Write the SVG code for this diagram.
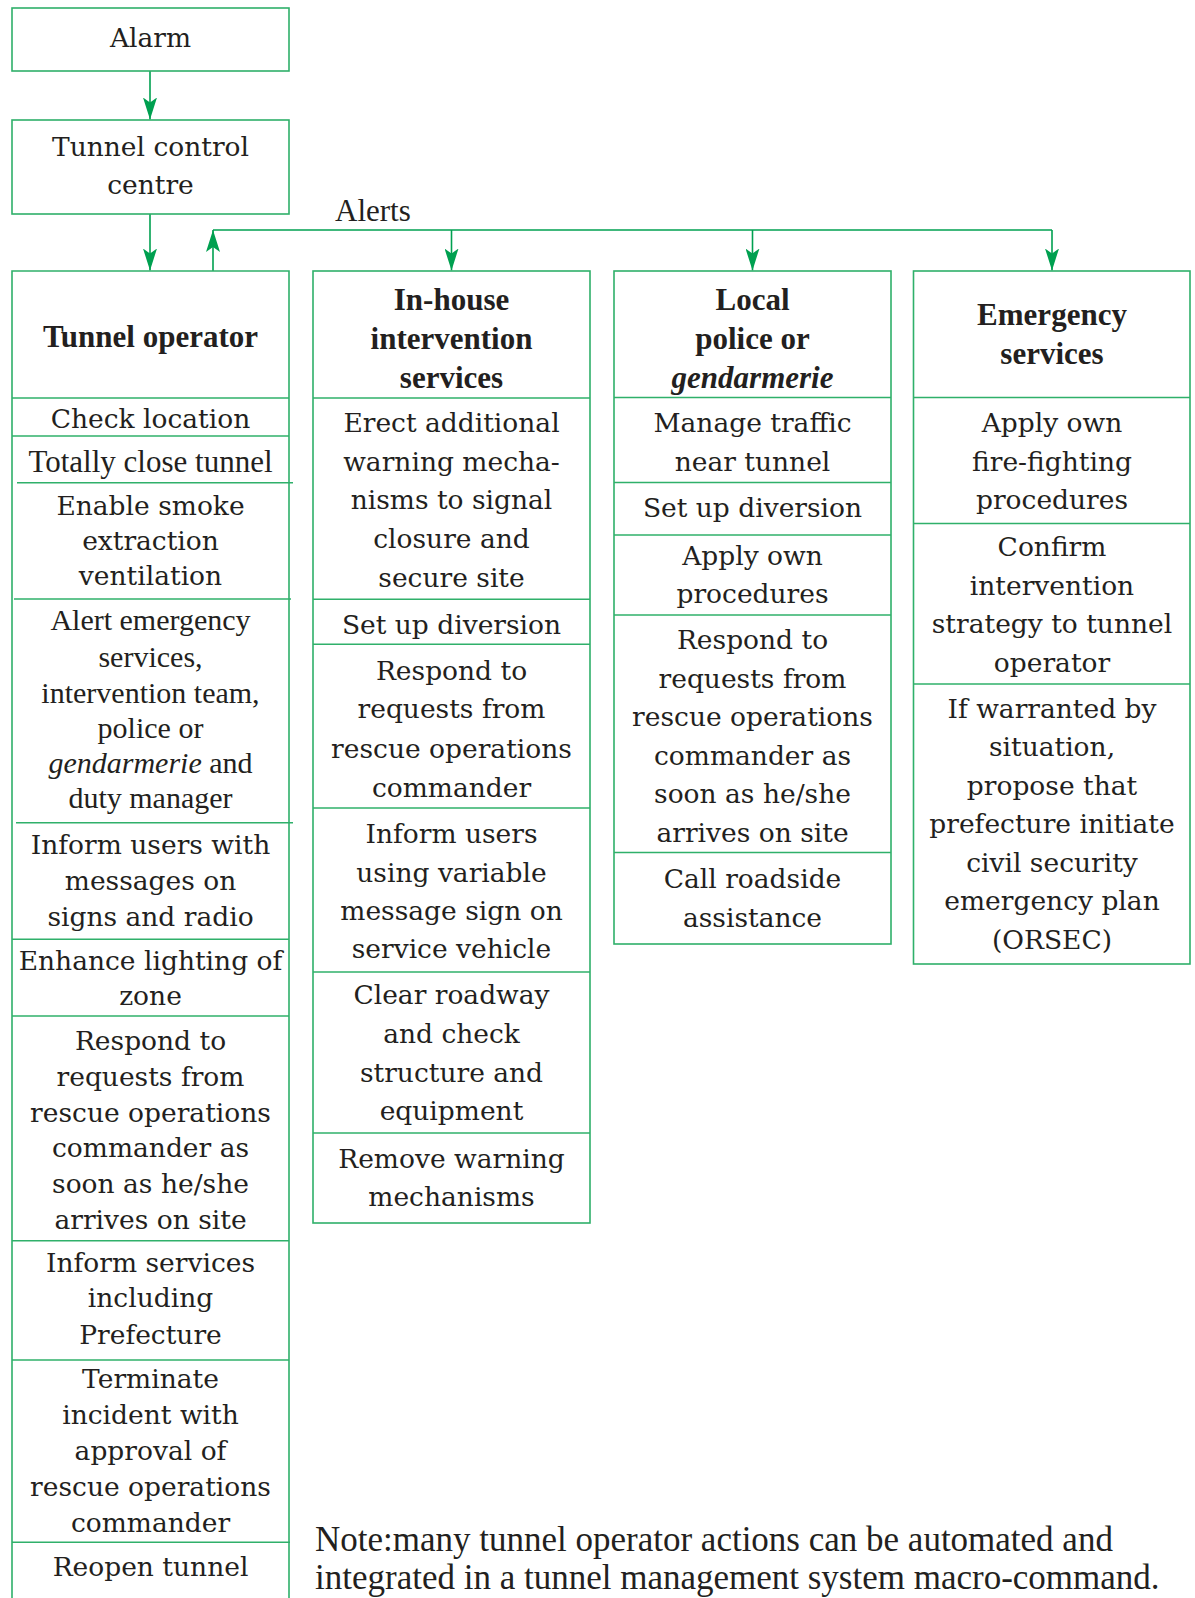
<svg xmlns="http://www.w3.org/2000/svg" width="1195" height="1598" viewBox="0 0 1195 1598">
  <style>
    .frame { fill: none; stroke: #2fb06a; stroke-width: 1.6; }
    .rule { stroke: #2fb06a; stroke-width: 1.6; }
    .conn { fill: none; stroke: #00a050; stroke-width: 1.6; }
    .t { font-family: "DejaVu Serif", "Liberation Serif", serif; font-size: 26.5px; fill: #231f20; text-anchor: middle; }
    .tc { font-family: "Liberation Serif", serif; font-size: 30px; fill: #231f20; text-anchor: middle; }
    .h { font-family: "Liberation Serif", serif; font-size: 31px; font-weight: bold; fill: #231f20; text-anchor: middle; }
    .lbl { font-family: "Liberation Serif", serif; font-size: 31px; fill: #231f20; }
    .note { font-family: "Liberation Serif", serif; font-size: 35px; fill: #231f20; }
    .it { font-style: italic; }
  </style>
  <defs>
    <marker id="arrow" viewBox="0 0 22 14" refX="22" refY="7" markerWidth="22" markerHeight="14" markerUnits="userSpaceOnUse" orient="auto">
      <path d="M0,0 L22,7 L0,14 L5,7 Z" fill="#00a050"/>
    </marker>
  </defs>
  <rect width="1195" height="1598" fill="#ffffff"/>

  <!-- connectors -->
  <g id="connectors">
    <line class="conn" x1="150" y1="71" x2="150" y2="119.5" marker-end="url(#arrow)"/>
    <line class="conn" x1="150" y1="214" x2="150" y2="270.5" marker-end="url(#arrow)"/>
    <line class="conn" x1="213" y1="271" x2="213" y2="230" marker-end="url(#arrow)"/>
    <path class="conn" d="M213,230 H1052"/>
    <line class="conn" x1="451.5" y1="230" x2="451.5" y2="270.5" marker-end="url(#arrow)"/>
    <line class="conn" x1="752.5" y1="230" x2="752.5" y2="270.5" marker-end="url(#arrow)"/>
    <line class="conn" x1="1052" y1="230" x2="1052" y2="270.5" marker-end="url(#arrow)"/>
    <text class="lbl" x="335" y="220.7">Alerts</text>
  </g>

  <!-- alarm -->
  <g id="alarm">
    <rect class="frame" x="12" y="8" width="277" height="63"/>
    <text class="t" x="150.5" y="47.3">Alarm</text>
  </g>

  <!-- tunnel control centre -->
  <g id="control-centre">
    <rect class="frame" x="12" y="120" width="277" height="94"/>
    <text class="t" x="150.5" y="155.7">Tunnel control</text>
    <text class="t" x="150.5" y="194">centre</text>
  </g>

  <!-- tunnel operator column (runs off the bottom edge) -->
  <g id="tunnel-operator">
    <path class="frame" d="M12,1598 V271 H289 V1598"/>
    <line class="rule" x1="12" y1="398" x2="289" y2="398"/>
    <line class="rule" x1="12" y1="436" x2="289" y2="436"/>
    <line class="rule" x1="17" y1="482.7" x2="293" y2="482.7"/>
    <line class="rule" x1="14" y1="599" x2="291" y2="599"/>
    <line class="rule" x1="16" y1="822.7" x2="293" y2="822.7"/>
    <line class="rule" x1="12" y1="939.3" x2="289" y2="939.3"/>
    <line class="rule" x1="12" y1="1016" x2="289" y2="1016"/>
    <line class="rule" x1="12" y1="1240.7" x2="289" y2="1240.7"/>
    <line class="rule" x1="12" y1="1360" x2="289" y2="1360"/>
    <line class="rule" x1="12" y1="1542.3" x2="290" y2="1542.3"/>
    <text class="h" x="150.5" y="346.7">Tunnel operator</text>
    <text class="t" x="150.5" y="427.7">Check location</text>
    <text class="lbl" x="150.5" y="471.7" text-anchor="middle">Totally close tunnel</text>
    <text class="t" x="150.5" y="515">Enable smoke</text>
    <text class="t" x="150.5" y="550">extraction</text>
    <text class="t" x="150.5" y="585">ventilation</text>
    <text class="tc" x="150.5" y="630">Alert emergency</text>
    <text class="tc" x="150.5" y="666.7">services,</text>
    <text class="tc" x="150.5" y="702.7">intervention team,</text>
    <text class="tc" x="150.5" y="737.7">police or</text>
    <text class="tc" x="150.5" y="773.3"><tspan class="it">gendarmerie</tspan> and</text>
    <text class="tc" x="150.5" y="808.3">duty manager</text>
    <text class="t" x="150.5" y="854">Inform users with</text>
    <text class="t" x="150.5" y="890">messages on</text>
    <text class="t" x="150.5" y="926">signs and radio</text>
    <text class="t" x="150.5" y="970">Enhance lighting of</text>
    <text class="t" x="150.5" y="1005">zone</text>
    <text class="t" x="150.5" y="1050">Respond to</text>
    <text class="t" x="150.5" y="1085.7">requests from</text>
    <text class="t" x="150.5" y="1121.7">rescue operations</text>
    <text class="t" x="150.5" y="1157.3">commander as</text>
    <text class="t" x="150.5" y="1193.3">soon as he/she</text>
    <text class="t" x="150.5" y="1229">arrives on site</text>
    <text class="t" x="150.5" y="1271.7">Inform services</text>
    <text class="t" x="150.5" y="1306.7">including</text>
    <text class="t" x="150.5" y="1344">Prefecture</text>
    <text class="t" x="150.5" y="1388.3">Terminate</text>
    <text class="t" x="150.5" y="1424">incident with</text>
    <text class="t" x="150.5" y="1460">approval of</text>
    <text class="t" x="150.5" y="1496">rescue operations</text>
    <text class="t" x="150.5" y="1531.7">commander</text>
    <text class="t" x="150.5" y="1576">Reopen tunnel</text>
  </g>

  <!-- in-house intervention services column -->
  <g id="in-house">
    <rect class="frame" x="313" y="271" width="277" height="952"/>
    <line class="rule" x1="313" y1="398" x2="590" y2="398"/>
    <line class="rule" x1="313" y1="599.3" x2="590" y2="599.3"/>
    <line class="rule" x1="313" y1="644.3" x2="590" y2="644.3"/>
    <line class="rule" x1="313" y1="808" x2="590" y2="808"/>
    <line class="rule" x1="313" y1="972" x2="590" y2="972"/>
    <line class="rule" x1="313" y1="1133" x2="590" y2="1133"/>
    <text class="h" x="451.5" y="310">In-house</text>
    <text class="h" x="451.5" y="348.7">intervention</text>
    <text class="h" x="451.5" y="387.5">services</text>
    <text class="t" x="451.5" y="432.3">Erect additional</text>
    <text class="t" x="451.5" y="470.7">warning mecha-</text>
    <text class="t" x="451.5" y="509.3">nisms to signal</text>
    <text class="t" x="451.5" y="548.3">closure and</text>
    <text class="t" x="451.5" y="587.3">secure site</text>
    <text class="t" x="451.5" y="634">Set up diversion</text>
    <text class="t" x="451.5" y="680">Respond to</text>
    <text class="t" x="451.5" y="718.3">requests from</text>
    <text class="t" x="451.5" y="757.7">rescue operations</text>
    <text class="t" x="451.5" y="796.7">commander</text>
    <text class="t" x="451.5" y="843.3">Inform users</text>
    <text class="t" x="451.5" y="881.7">using variable</text>
    <text class="t" x="451.5" y="920">message sign on</text>
    <text class="t" x="451.5" y="958.3">service vehicle</text>
    <text class="t" x="451.5" y="1004">Clear roadway</text>
    <text class="t" x="451.5" y="1042.7">and check</text>
    <text class="t" x="451.5" y="1081.7">structure and</text>
    <text class="t" x="451.5" y="1120">equipment</text>
    <text class="t" x="451.5" y="1168.3">Remove warning</text>
    <text class="t" x="451.5" y="1206">mechanisms</text>
  </g>

  <!-- local police or gendarmerie column -->
  <g id="police">
    <rect class="frame" x="614" y="271" width="277" height="673"/>
    <line class="rule" x1="614" y1="397.5" x2="891" y2="397.5"/>
    <line class="rule" x1="614" y1="482.5" x2="891" y2="482.5"/>
    <line class="rule" x1="614" y1="535" x2="891" y2="535"/>
    <line class="rule" x1="614" y1="615" x2="891" y2="615"/>
    <line class="rule" x1="614" y1="852.5" x2="891" y2="852.5"/>
    <text class="h" x="752.5" y="310">Local</text>
    <text class="h" x="752.5" y="348.7">police or</text>
    <text class="h it" x="752.5" y="387.5">gendarmerie</text>
    <text class="t" x="752.5" y="431.7">Manage traffic</text>
    <text class="t" x="752.5" y="470.8">near tunnel</text>
    <text class="t" x="752.5" y="517.4">Set up diversion</text>
    <text class="t" x="752.5" y="564.7">Apply own</text>
    <text class="t" x="752.5" y="602.5">procedures</text>
    <text class="t" x="752.5" y="649">Respond to</text>
    <text class="t" x="752.5" y="687.5">requests from</text>
    <text class="t" x="752.5" y="726">rescue operations</text>
    <text class="t" x="752.5" y="764.5">commander as</text>
    <text class="t" x="752.5" y="803">soon as he/she</text>
    <text class="t" x="752.5" y="841.5">arrives on site</text>
    <text class="t" x="752.5" y="888">Call roadside</text>
    <text class="t" x="752.5" y="926.5">assistance</text>
  </g>

  <!-- emergency services column -->
  <g id="emergency">
    <rect class="frame" x="913.5" y="271" width="276.5" height="693"/>
    <line class="rule" x1="913.5" y1="397.5" x2="1190" y2="397.5"/>
    <line class="rule" x1="913.5" y1="523.5" x2="1190" y2="523.5"/>
    <line class="rule" x1="913.5" y1="684" x2="1190" y2="684"/>
    <text class="h" x="1052" y="325.3">Emergency</text>
    <text class="h" x="1052" y="364">services</text>
    <text class="t" x="1052" y="432">Apply own</text>
    <text class="t" x="1052" y="470.5">fire-fighting</text>
    <text class="t" x="1052" y="509">procedures</text>
    <text class="t" x="1052" y="556">Confirm</text>
    <text class="t" x="1052" y="594.5">intervention</text>
    <text class="t" x="1052" y="633">strategy to tunnel</text>
    <text class="t" x="1052" y="671.5">operator</text>
    <text class="t" x="1052" y="717.5">If warranted by</text>
    <text class="t" x="1052" y="756">situation,</text>
    <text class="t" x="1052" y="794.5">propose that</text>
    <text class="t" x="1052" y="833">prefecture initiate</text>
    <text class="t" x="1052" y="871.5">civil security</text>
    <text class="t" x="1052" y="910">emergency plan</text>
    <text class="t" x="1052" y="948.5">(ORSEC)</text>
  </g>

  <!-- footnote -->
  <g id="note">
    <text class="note" x="315" y="1550.5">Note:many tunnel operator actions can be automated and</text>
    <text class="note" x="315" y="1589">integrated in a tunnel management system macro-command.</text>
  </g>
</svg>
